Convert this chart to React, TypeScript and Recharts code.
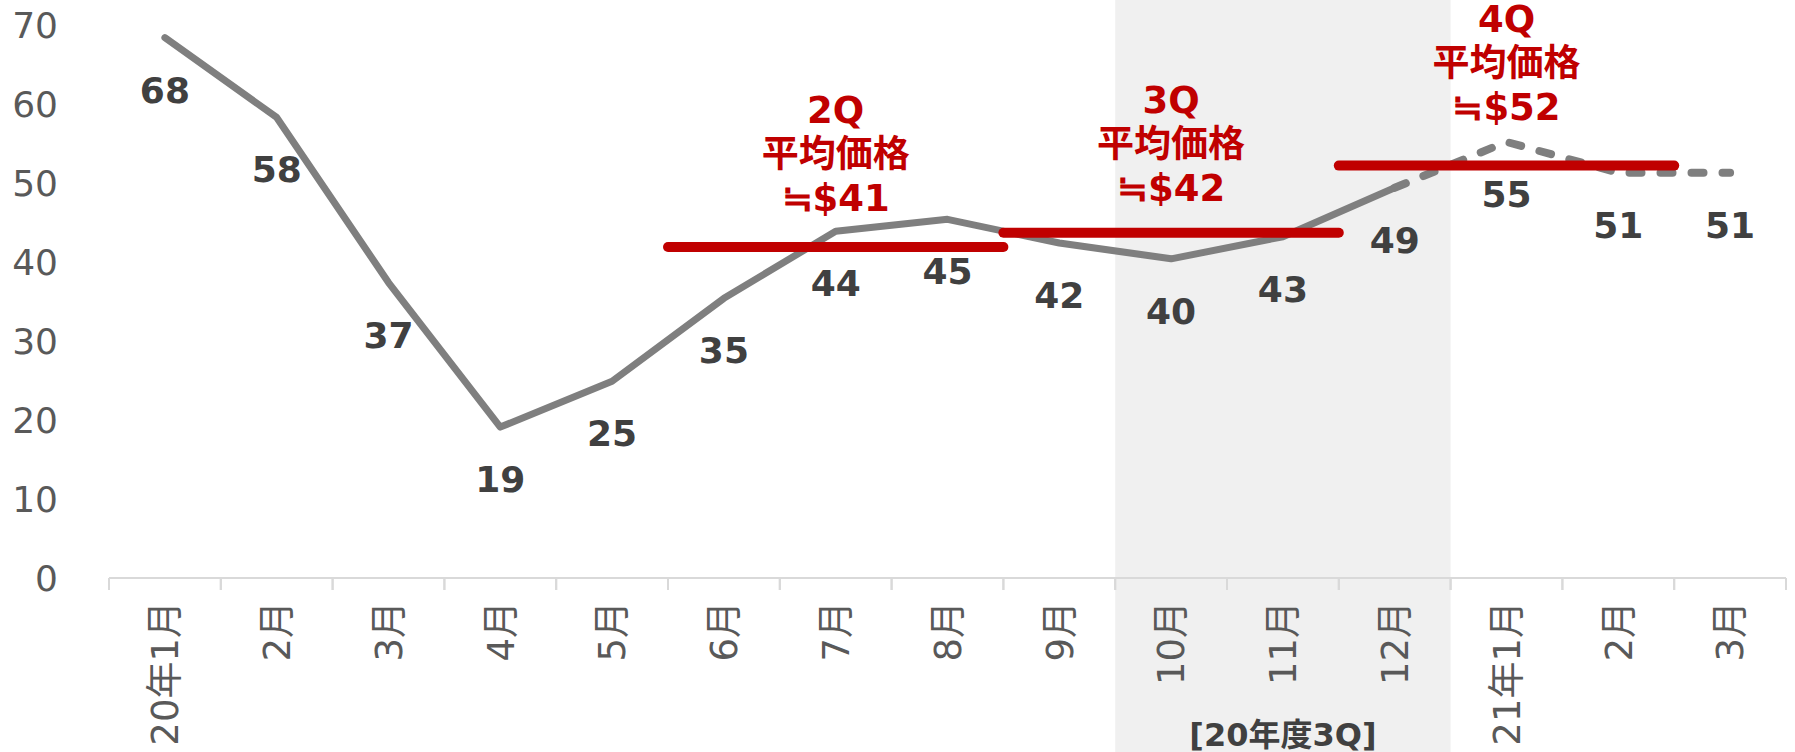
import React from 'react';
import {
  LineChart,
  Line,
  XAxis,
  YAxis,
  ReferenceArea,
  ReferenceLine,
  LabelList,
} from 'recharts';

// ---------- data ----------
const months = ['20年1月', '2月', '3月', '4月', '5月', '6月', '7月', '8月', '9月', '10月', '11月', '12月', '21年1月', '2月', '3月'];
const actualPrice: (number | null)[] = [68.4, 58.3, 37.4, 19.1, 24.9, 35.4, 43.9, 45.4, 42.4, 40.4, 43.2, 49.4, null, null, null];
const forecastPrice: (number | null)[] = [null, null, null, null, null, null, null, null, null, null, null, 49.4, 55.2, 51.3, 51.3];
const yTicks = [0, 10, 20, 30, 40, 50, 60, 70];

const quarterNames = ['2Q', '3Q', '4Q'];
const quarterCaption = '平均価格';
const quarterAvgLabels = ['≒$41', '≒$42', '≒$52'];
const quarterLevels = [41.9, 43.7, 52.2];
const quarterStart = [5, 8, 11];
const quarterEnd = [8, 11, 14];

const shadedStart = 9;
const shadedEnd = 12;
const shadedLabel = '[20年度3Q]';

// ---------- styles ----------
const W = 1795;
const H = 752;
const Y_AXIS_W = 109;
const M_RIGHT = 9;
const PLOT_W = W - Y_AXIS_W - M_RIGHT;
const BAND = PLOT_W / months.length;
const FONT = "'DejaVu Sans', 'Noto Sans CJK JP', sans-serif";
const CJK_FONT = "'Noto Sans CJK JP', sans-serif";
const GRAY_LINE = '#7f7f7f';
const RED = '#C00000';
const LABEL_DARK = '#404040';
const AXIS_TEXT = '#595959';
const AXIS_LINE = '#d9d9d9';
const SHADE = '#f0f0f0';
const quarterLabelGap = [49, 45, 59];
const quarterLineSpacing = 44;

const data = months.map((m, i) => ({
  month: m,
  idx: i,
  actual: actualPrice[i],
  forecast: forecastPrice[i],
}));

const MonthTick = (props: any) => {
  const { x, y, payload } = props;
  const half = BAND / 2;
  const label = typeof payload?.value === 'number' ? months[payload.value] : payload?.value;
  const axisY = y - 23;
  return (
    <g>
      <line x1={x - half} x2={x - half} y1={axisY} y2={axisY + 12} stroke={AXIS_LINE} strokeWidth={2} />
      <line x1={x + half} x2={x + half} y1={axisY} y2={axisY + 12} stroke={AXIS_LINE} strokeWidth={2} />
      <text
        x={x}
        y={y}
        transform={`rotate(-90, ${x}, ${y})`}
        textAnchor="end"
        dy="0.36em"
        fill={AXIS_TEXT}
        fontSize={37}
        fontFamily={FONT}
      >
        {label}
      </text>
    </g>
  );
};

const makeValueLabel = (skip: (i: number) => boolean) => (props: any) => {
  const { value, index } = props;
  if (value == null || skip(index)) return null;
  const x = props.x ?? props.viewBox?.x;
  const y = props.y ?? props.viewBox?.y;
  return (
    <text
      key={`lbl-${index}`}
      x={x}
      y={y + 52}
      dy="0.36em"
      textAnchor="middle"
      fill={LABEL_DARK}
      fontSize={36}
      fontWeight="bold"
      fontFamily={FONT}
    >
      {Math.round(value)}
    </text>
  );
};

const renderRedText = (t: string) => {
  if (t.startsWith('≒')) {
    return (
      <>
        <tspan fontFamily={CJK_FONT}>≒</tspan>
        {t.slice(1)}
      </>
    );
  }
  return t;
};

const quarterLabel = (qi: number) => (props: any) => {
  const vb = props.viewBox || {};
  const cx = vb.x + vb.width / 2;
  const bottom = vb.y - quarterLabelGap[qi];
  const lines = [quarterNames[qi], quarterCaption, quarterAvgLabels[qi]];
  return (
    <g>
      {lines.map((t, k) => (
        <text
          key={k}
          x={cx}
          y={bottom - (2 - k) * quarterLineSpacing}
          dy="0.36em"
          textAnchor="middle"
          fill={RED}
          fontSize={37}
          fontWeight="bold"
          fontFamily={FONT}
        >
          {renderRedText(t)}
        </text>
      ))}
    </g>
  );
};

export default function App() {
  return (
    <div style={{ position: 'absolute', left: 0, top: 0, width: W, height: H, background: '#fff' }}>
      <LineChart width={W} height={H} data={data} margin={{ top: 25, right: M_RIGHT, bottom: 0, left: 0 }}>
        <ReferenceArea
          xAxisId="q"
          x1={shadedStart}
          x2={shadedEnd}
          ifOverflow="visible"
          shape={(p: any) => <rect x={p.x} y={0} width={p.width} height={H} fill={SHADE} />}
          label={(p: any) => {
            const vb = p.viewBox || {};
            return (
              <text
                x={vb.x + vb.width / 2}
                y={H - 18}
                dy="0.36em"
                textAnchor="middle"
                fill={LABEL_DARK}
                fontSize={32}
                fontWeight="bold"
                fontFamily={FONT}
              >
                {shadedLabel}
              </text>
            );
          }}
        />
        <XAxis
          dataKey="month"
          height={174}
          interval={0}
          padding={{ left: BAND / 2, right: BAND / 2 }}
          tickLine={false}
          tickSize={0}
          tickMargin={23}
          axisLine={{ stroke: AXIS_LINE, strokeWidth: 2 }}
          tick={<MonthTick />}
        />
        <XAxis xAxisId="q" type="number" dataKey="idx" domain={[0, 15]} allowDataOverflow hide />
        <YAxis
          domain={[0, 70]}
          ticks={yTicks}
          width={Y_AXIS_W}
          axisLine={false}
          tickLine={false}
          tickSize={0}
          tickMargin={51}
          tick={{ fill: AXIS_TEXT, fontSize: 36, fontFamily: FONT }}
        />
        <Line
          dataKey="actual"
          type="linear"
          stroke={GRAY_LINE}
          strokeWidth={7}
          strokeLinecap="round"
          strokeLinejoin="round"
          dot={false}
          activeDot={false}
          isAnimationActive={false}
        >
          <LabelList dataKey="actual" content={makeValueLabel(() => false)} />
        </Line>
        <Line
          dataKey="forecast"
          type="linear"
          stroke={GRAY_LINE}
          strokeWidth={8}
          strokeDasharray="12 19"
          strokeLinecap="round"
          strokeLinejoin="round"
          dot={false}
          activeDot={false}
          isAnimationActive={false}
        >
          <LabelList dataKey="forecast" content={makeValueLabel((i) => actualPrice[i] != null)} />
        </Line>
        {quarterNames.map((q, i) => (
          <ReferenceLine
            key={q}
            xAxisId="q"
            segment={[
              { x: quarterStart[i], y: quarterLevels[i] },
              { x: quarterEnd[i], y: quarterLevels[i] },
            ]}
            stroke={RED}
            strokeWidth={10}
            strokeLinecap="round"
            ifOverflow="visible"
            label={quarterLabel(i)}
          />
        ))}
      </LineChart>
    </div>
  );
}
